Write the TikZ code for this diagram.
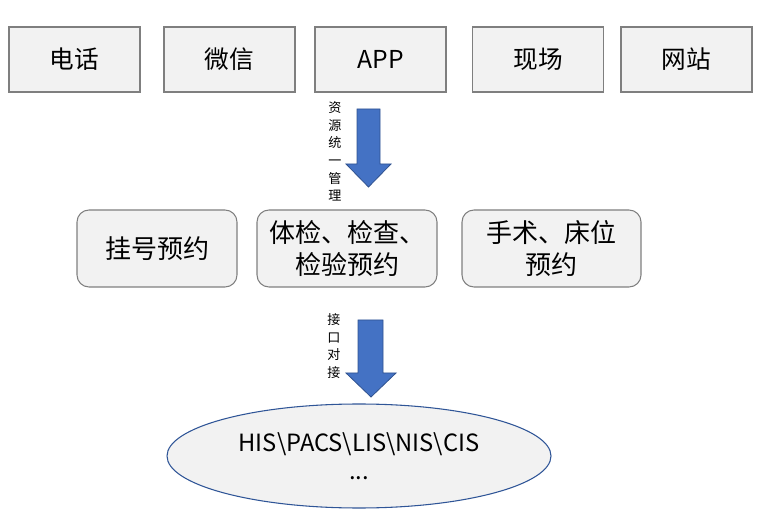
\documentclass[tikz,border=0pt]{standalone}
\usepackage{fontspec}
\setmainfont{Noto Sans CJK SC}
\usetikzlibrary{shapes.geometric}
\definecolor{boxfill}{HTML}{F2F2F2}
\definecolor{boxline}{HTML}{7F7F7F}
\definecolor{arrowfill}{HTML}{4472C4}
\definecolor{arrowline}{HTML}{2F528F}
\definecolor{ellline}{HTML}{2F5597}
\begin{document}
\begin{tikzpicture}[x=0.75pt,y=-0.75pt,
  topbox/.style={draw=boxline, fill=boxfill, line width=0.8pt, inner sep=0pt,
    minimum width=98.25pt, minimum height=48.75pt, font=\fontsize{18.5}{22}\selectfont},
  midbox/.style={draw=boxline, fill=boxfill, line width=0.8pt, inner sep=0pt,
    rounded corners=9pt, minimum height=57.75pt, align=center,
    font=\fontsize{19.5}{24}\selectfont},
  sysell/.style={ellipse, draw=ellline, fill=boxfill, line width=0.8pt, inner sep=0pt,
    minimum width=288pt, minimum height=78pt, align=center,
    font=\fontsize{17.8}{21}\selectfont},
  blockarrow/.style={fill=arrowfill, draw=arrowline, line width=0.6pt},
  arrowlabel/.style={align=center, inner sep=0pt, font=\fontsize{9.8}{13.3}\selectfont}
]
\useasboundingbox (0,0) rectangle (763,523);
% top row
\node[topbox] (tel) at (74.5,59.5) {电话};
\node[topbox] (wx) at (229.5,59.5) {微信};
\node[topbox] (app) at (380.5,59.5) {APP};
\node[topbox] (xc) at (538,59.5) {现场};
\node[topbox] (wz) at (686.5,59.5) {网站};
% arrow 1
\draw[blockarrow] (357,109) -- (380,109) -- (380,164) -- (391,164) -- (368.5,187)
  -- (346,164) -- (357,164) -- cycle;
\node[arrowlabel] (lab1) at (335,151.5) {资\\源\\统\\一\\管\\理};
% middle row
\node[midbox, minimum width=120pt] (gh) at (157,248.5) {挂号预约};
\node[midbox, minimum width=135pt] (tj) at (347,248.5) {体检、检查、\\检验预约};
\node[midbox, minimum width=134.25pt] (ss) at (551.5,248.5) {手术、床位\\预约};
% arrow 2
\draw[blockarrow] (358,320) -- (383,320) -- (383,373) -- (396,373) -- (371,397)
  -- (346,373) -- (358,373) -- cycle;
\node[arrowlabel] (lab2) at (334,346) {接\\口\\对\\接};
% ellipse
\node[sysell] (sys) at (359,456) {HIS\textbackslash PACS\textbackslash LIS\textbackslash NIS\textbackslash CIS\\...};
\end{tikzpicture}
\end{document}
